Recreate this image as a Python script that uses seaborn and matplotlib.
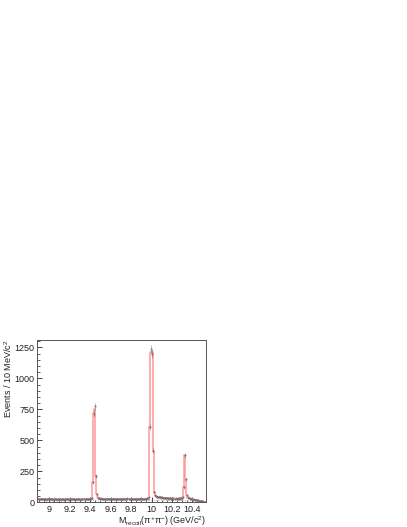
# Recoil mass spectrum against pi+pi- (three Upsilon peaks)
import numpy as np
import pandas as pd
import matplotlib
matplotlib.use("Agg")
import matplotlib.pyplot as plt
from matplotlib.ticker import MultipleLocator
import seaborn as sns

# 10 MeV bins starting at 8.88 GeV
x_lo = 8.88
bin_w = 0.01

# data counts per bin
counts = ([29,25,27,24,28,23,26,27,22,25, 28,24,23,27,25,21,26,24,27,22,
           25,23,26,22,24,27,21,25,23,26, 24,22,27,23,25,24,26,21,24,25,
           23,26,22,25,27,24,23,28,25,27, 26,30,29,38]
          + [160,715,775,210,70,38,35]
          + [28,31,26,29,25,28,30,26,24,29, 27,25,30,28,24,26,29,27,25,28,
             30,24,27,26,29,25,28,31,26,24, 27,29,25,28,26,30,24,27,29,26,
             31,27,25,30,28,26,31,30,40]
          + [605,1235,1200,415,80,55]
          + [47,42,45,40,43,38,40,35,37,33, 36,31,34,30,33,29,32,30,28,31,
             29,32,27,33,30,36,42]
          + [120,380,185,55,40]
          + [31,32,26,28,22,24,18,20,15,16, 10,12,7,9,4,5,2])

# total fit per bin (red)
fit = ([27,27,26,26,26,26,25,25,25,25, 25,25,25,25,24,24,24,24,24,24,
        24,24,24,24,24,24,24,24,24,24, 24,24,24,24,24,24,24,24,24,24,
        24,24,24,24,25,25,25,25,26,26, 27,28,30,36]
       + [165,720,750,215,65,40,33]
       + [30,29,28,28,27,27,27,27,27,27, 27,27,27,27,27,27,27,27,27,27,
          27,27,27,27,27,27,27,27,27,27, 27,27,27,27,27,27,27,27,27,27,
          28,28,28,28,29,29,30,32,38]
       + [610,1210,1215,410,85,52]
       + [45,44,43,42,41,40,38,37,36,35, 34,33,33,32,32,31,31,31,30,30,
          30,30,30,31,32,34,40]
       + [125,385,180,58,38]
       + [33,30,28,26,24,22,20,18,16,14, 12,10,8,7,5,4,3])

# background component (dotted)
bkg_x = [8.88, 9.2, 9.6, 10.0, 10.3, 10.4, 10.45, 10.5, 10.53]
bkg_y = [18, 17, 17, 16, 15, 13, 9, 4, 1]

centers = x_lo + bin_w * (np.arange(len(counts)) + 0.5)
df = pd.DataFrame({"m": centers, "n": counts, "fit": fit})

sns.set_style("ticks")
plt.rcParams["font.family"] = ["Liberation Sans", "DejaVu Sans"]
plt.rcParams["mathtext.fontset"] = "custom"
plt.rcParams["mathtext.rm"] = "Liberation Sans"
plt.rcParams["mathtext.it"] = "Liberation Sans"

fig = plt.figure(figsize=(4.07, 5.27), dpi=100)
ax = fig.add_axes([0.0909, 0.0469, 0.4145, 0.3079])

sns.lineplot(x=bkg_x, y=bkg_y, ax=ax, color="#aaaaaa", lw=0.7, linestyle=(0, (1, 1.5)))
sns.lineplot(data=df, x="m", y="fit", ax=ax, color="#ff9a9a", lw=1.1,
             drawstyle="steps-mid")
ax.errorbar(df["m"], df["n"], yerr=np.sqrt(df["n"]), fmt="o", ms=0.5,
            color="#666666", elinewidth=0.4, capsize=0, alpha=0.8)

ax.set_xlim(8.88, 10.53)
ax.set_ylim(0, 1310)
ax.xaxis.set_major_locator(MultipleLocator(0.2))
ax.xaxis.set_minor_locator(MultipleLocator(0.05))
ax.yaxis.set_major_locator(MultipleLocator(250))
ax.yaxis.set_minor_locator(MultipleLocator(50))
ax.set_xticks([9.0, 9.2, 9.4, 9.6, 9.8, 10.0, 10.2, 10.4])
ax.set_xticklabels(["9", "9.2", "9.4", "9.6", "9.8", "10", "10.2", "10.4"])

ax.tick_params(which="both", direction="in", labelsize=6.5, pad=2, colors="#222222")
ax.tick_params(which="major", length=3.5, width=0.6)
ax.tick_params(which="minor", length=1.8, width=0.5)
for s in ax.spines.values():
    s.set_linewidth(0.7)
    s.set_color("#555555")

ax.set_ylabel("Events / 10 MeV/c$^2$", fontsize=6.5, loc="top", labelpad=0.5,
              color="#222222")
ax.set_xlabel("M$_{recoil}$(\u03c0$^{+}$\u03c0$^{-}$) (GeV/c$^2$)", fontsize=6.5,
              loc="right", labelpad=0, color="#222222")

fig.savefig("out.png", dpi=100)
